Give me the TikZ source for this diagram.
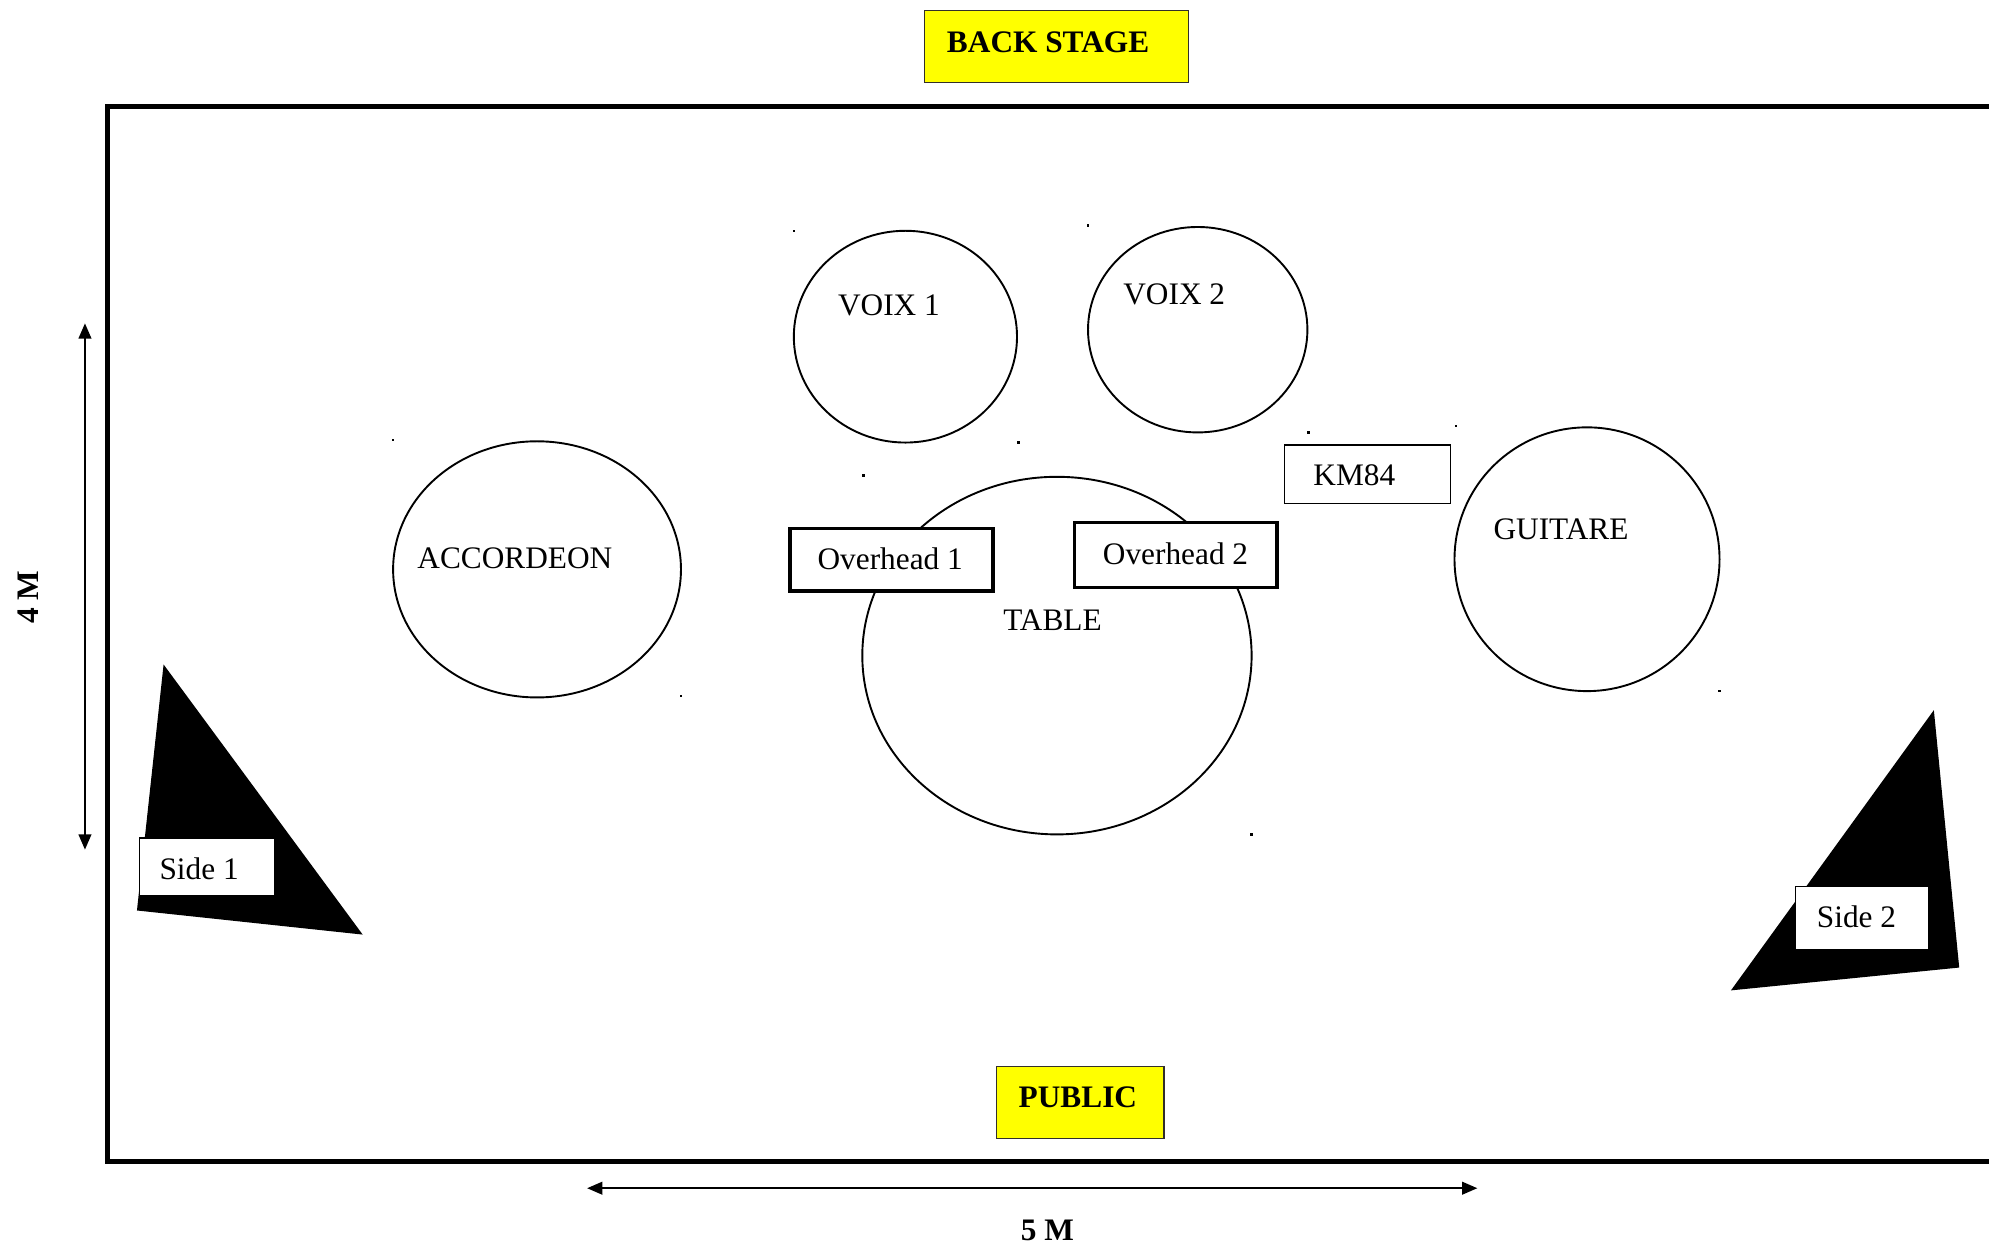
\documentclass[tikz,border=0pt]{standalone}
\usepackage{fontspec}
\setmainfont{Liberation Serif}
\usetikzlibrary{shapes.geometric,arrows.meta}
\definecolor{ylw}{RGB}{255,255,0}
\tikzset{
  lbl/.style={inner sep=0pt, font=\fontsize{24.7}{29}\selectfont},
  blbl/.style={inner sep=0pt, font=\fontsize{24.7}{29}\selectfont\bfseries},
  ybox/.style={draw=black!85!olive, line width=1pt, fill=ylw, inner sep=0pt},
  spot/.style={draw, ellipse, line width=1.5pt, inner sep=0pt},
  ohbox/.style={draw, line width=2.5pt, fill=white, inner sep=0pt},
  thinbox/.style={draw, line width=1.2pt, fill=white, inner sep=0pt},
  dimarrow/.style={line width=1.4pt, {Triangle[length=12pt,width=10pt]}-{Triangle[length=12pt,width=10pt]}},
  dot/.style={fill=black, inner sep=0pt, minimum size=2pt}
}
\begin{document}
\begin{tikzpicture}[x=1pt,y=-1pt]
\clip (0,0) rectangle (1568.5,981);
\fill[white] (0,0) rectangle (1568.5,981);

% stage frame
\draw[line width=4pt] (1620,84) -- (85,84) -- (85,916) -- (1620,916);

% back stage / public
\node[ybox, minimum width=208pt, minimum height=57pt] (bs) at (833,36.5) {};
\node[blbl] (bst) at (826.5,33) {BACK STAGE};
\node[ybox, minimum width=132pt, minimum height=57pt] (pub) at (852,869.5) {};
\node[blbl] (pubt) at (850,865) {PUBLIC};

% dimension arrows
\coordinate (vt) at (67,255);
\coordinate (vb) at (67,670);
\draw[dimarrow] (vt) -- (vb);
\node[blbl, rotate=90] (fourm) at (22,471) {4 M};
\coordinate (hl) at (463,937);
\coordinate (hr) at (1165,937);
\draw[dimarrow] (hl) -- (hr);
\node[blbl] (fivem) at (826,970) {5 M};

% instrument areas
\node[spot, minimum width=176pt, minimum height=167pt] (v1) at (714,265.5) {};
\node[lbl] (v1t) at (701,241) {VOIX 1};
\node[spot, minimum width=173pt, minimum height=162pt] (v2) at (944.5,260) {};
\node[lbl] (v2t) at (926,232) {VOIX 2};
\node[spot, minimum width=227pt, minimum height=202pt] (acc) at (423.5,449) {};
\node[lbl] (acct) at (406,440) {ACCORDEON};
\node[spot, minimum width=307pt, minimum height=282pt] (tab) at (833.5,517) {};
\node[lbl] (tabt) at (830,489) {TABLE};
\node[spot, minimum width=209pt, minimum height=208pt] (gui) at (1251.5,441) {};
\node[lbl] (guit) at (1231,417) {GUITARE};

% microphones
\node[ohbox, minimum width=160pt, minimum height=49pt] (oh1) at (703,441.5) {};
\node[lbl] (oh1t) at (702,441) {Overhead 1};
\node[ohbox, minimum width=160pt, minimum height=51pt] (oh2) at (927,437.5) {};
\node[lbl] (oh2t) at (927,437) {Overhead 2};
\node[thinbox, minimum width=131pt, minimum height=46pt] (km) at (1078.5,374) {};
\node[lbl] (kmt) at (1068,375) {KM84};

% side monitors
\fill (129,524) -- (108,718) -- (286,737) -- cycle;
\node[thinbox, minimum width=107pt, minimum height=45pt] (s1) at (163.5,683.5) {};
\node[lbl] (s1t) at (157,685) {Side 1};
\fill (1525,560) -- (1545,763) -- (1365,781) -- cycle;
\node[thinbox, minimum width=105pt, minimum height=50pt] (s2) at (1468.5,724) {};
\node[lbl] (s2t) at (1464,723) {Side 2};

% small marks at the corners of the areas
\foreach \p in {(626,182),(803,349),(858,178),(1032,341),(310,347),(537,549),(681,375),(987,658),(1148,336),(1356,545)}
  \node[dot] at \p {};
\end{tikzpicture}
\end{document}
